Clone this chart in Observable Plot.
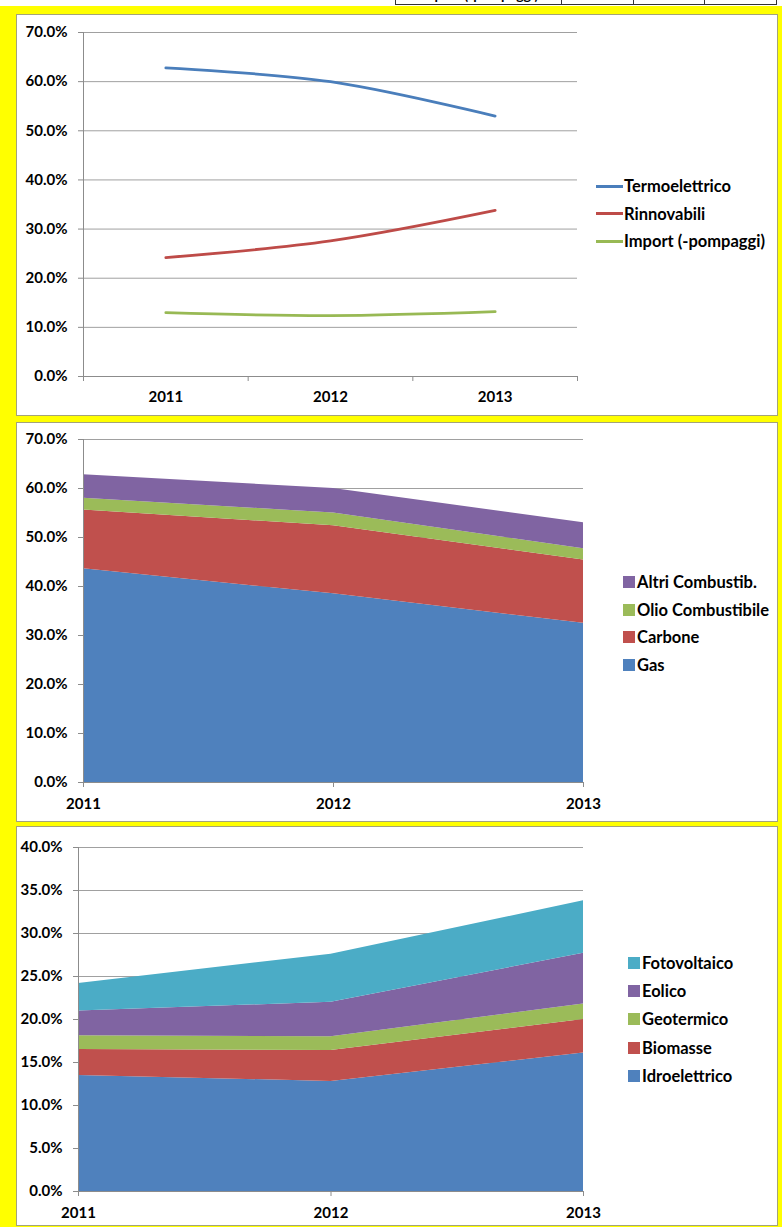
<!DOCTYPE html>
<html><head><meta charset="utf-8">
<script src="https://cdn.jsdelivr.net/npm/d3@7"></script>
<script src="https://cdn.jsdelivr.net/npm/@observablehq/plot@0.6"></script>
<style>
body{margin:0;background:#fff;}
#page{position:relative;width:782px;height:1227px;background:#ffff00;overflow:hidden;font-family:Lato,sans-serif;}
#topstrip{position:absolute;left:0;top:0;width:782px;height:6px;background:#fff;overflow:hidden;}
#topstrip table{position:absolute;left:395px;top:-16px;border-collapse:collapse;font:bold 14px Lato,sans-serif;}
#topstrip td{border:1px solid #333;height:19px;padding:0 4px;text-align:center;}
.panel{position:absolute;left:16px;width:760px;background:#fff;border:1px solid #a3a37a;}
.chart{position:absolute;left:0;}
.legend{position:absolute;font-weight:bold;color:#000;}
.item{position:absolute;left:0;height:20px;white-space:nowrap;display:flex;align-items:center;}
</style></head>
<body>
<div id="page">
  <div id="topstrip"></div>
  <div class="panel" style="top:14px;height:400px;"></div>
  <div class="panel" style="top:422px;height:398px;"></div>
  <div class="panel" style="top:826px;height:398px;"></div>
</div>
<script>
// ---------- DATA ----------
const years = [2011, 2012, 2013];

const lineSeries = ["Termoelettrico", "Rinnovabili", "Import (-pompaggi)"];
const termoelettrico = [0.628, 0.600, 0.530];
const rinnovabili = [0.242, 0.276, 0.338];
const importPompaggi = [0.130, 0.124, 0.132];
const lineColors = ["#4a7ebb", "#be4b48", "#98b954"];
const y1Ticks = [0, 0.1, 0.2, 0.3, 0.4, 0.5, 0.6, 0.7];

const fossilSeries = ["Gas", "Carbone", "Olio Combustibile", "Altri Combustib."];
const gas = [0.436, 0.385, 0.325];
const carbone = [0.120, 0.139, 0.129];
const olio = [0.024, 0.026, 0.023];
const altri = [0.048, 0.050, 0.053];
const fossilColors = ["#4f81bd", "#c0504d", "#9bbb59", "#8064a2"];
const y2Ticks = [0, 0.1, 0.2, 0.3, 0.4, 0.5, 0.6, 0.7];

const renewSeries = ["Idroelettrico", "Biomasse", "Geotermico", "Eolico", "Fotovoltaico"];
const idro = [0.135, 0.128, 0.161];
const biomasse = [0.030, 0.036, 0.039];
const geotermico = [0.016, 0.016, 0.018];
const eolico = [0.029, 0.040, 0.059];
const fotovoltaico = [0.032, 0.056, 0.061];
const renewColors = ["#4f81bd", "#c0504d", "#9bbb59", "#8064a2", "#4bacc6"];
const y3Ticks = [0, 0.05, 0.10, 0.15, 0.20, 0.25, 0.30, 0.35, 0.40];

// ---------- HELPERS ----------
const page = document.getElementById("page");
const pct = d3.format(".1%");
function tidy(series, arrays) {
  const out = [];
  series.forEach((s, i) => years.forEach((yr, j) => out.push({series: s, year: yr, value: arrays[i][j]})));
  return out;
}
const baseStyle = {background: "transparent", fontFamily: "Lato, sans-serif", fontSize: "15px", fontWeight: "bold", color: "#000", overflow: "visible"};
const gridColor = "#a0a0a0";
const axisColor = "#8c8c8c";

function place(svg, top) {
  svg.classList.add("chart");
  svg.style.top = top + "px";
  svg.style.position = "absolute";
  svg.style.left = "0px";
  page.appendChild(svg);
}
function legend(names, colors, left, top, gap, kind, fontSize) {
  const div = document.createElement("div");
  div.className = "legend";
  div.style.left = left + "px";
  div.style.top = top + "px";
  div.style.fontSize = fontSize + "px";
  names.forEach((n, i) => {
    const it = document.createElement("div");
    it.className = "item";
    it.style.top = (i * gap) + "px";
    const sw = document.createElement("span");
    if (kind === "line") {
      sw.style.cssText = `display:inline-block;width:27px;height:3px;background:${colors[i]};margin-right:1px;`;
    } else {
      sw.style.cssText = `display:inline-block;width:12px;height:12px;background:${colors[i]};margin-right:2px;`;
    }
    it.appendChild(sw);
    const t = document.createElement("span");
    t.textContent = n;
    it.appendChild(t);
    div.appendChild(it);
  });
  page.appendChild(div);
}

// ---------- TOP TABLE FRAGMENT ----------
{
  const tbl = document.createElement("table");
  const tr = document.createElement("tr");
  const widths = [157, 63, 62, 63];
  const cells = ["Import (-pompaggi)", ...importPompaggi.map(pct)];
  cells.forEach((c, i) => {
    const td = document.createElement("td");
    td.style.width = widths[i] + "px";
    td.textContent = c;
    tr.appendChild(td);
  });
  tbl.appendChild(tr);
  document.getElementById("topstrip").appendChild(tbl);
}

// ---------- PANEL 1: lines ----------
{
  const data = tidy(lineSeries, [termoelettrico, rinnovabili, importPompaggi]);
  const bounds = [years[0] - 0.5, ...years.map(y => y + 0.5)];
  const svg = Plot.plot({
    width: 782, height: 402,
    marginLeft: 83, marginRight: 205, marginTop: 18, marginBottom: 40,
    x: {type: "linear", domain: [bounds[0], bounds[bounds.length - 1]]},
    y: {domain: [0, 0.7]},
    color: {domain: lineSeries, range: lineColors},
    style: baseStyle,
    marks: [
      Plot.gridY(y1Ticks, {stroke: gridColor, strokeOpacity: 1}),
      Plot.ruleX([bounds[0]], {stroke: axisColor}),
      Plot.ruleY([0], {stroke: axisColor}),
      Plot.axisY(y1Ticks, {tickFormat: pct, tickSize: 5, tickPadding: 11, stroke: axisColor, label: null}),
      Plot.axisX(bounds, {tickFormat: () => "", tickSize: 5, stroke: axisColor, label: null}),
      Plot.axisX(years, {tickFormat: d => String(d), tickSize: 0, tickPadding: 15, label: null}),
      Plot.line(data, {x: "year", y: "value", z: "series", stroke: "series", strokeWidth: 2.75, curve: "catmull-rom"})
    ]
  });
  place(svg, 14);
  legend(lineSeries, lineColors, 596, 176, 27.5, "line", 16.5);
}

// ---------- PANEL 2: fossil stacked area ----------
{
  const data = tidy(fossilSeries, [gas, carbone, olio, altri]);
  const svg = Plot.plot({
    width: 782, height: 400,
    marginLeft: 83, marginRight: 199, marginTop: 17, marginBottom: 40,
    x: {type: "linear", domain: [years[0], years[years.length - 1]]},
    y: {domain: [0, 0.7]},
    color: {domain: fossilSeries, range: fossilColors},
    style: baseStyle,
    marks: [
      Plot.gridY(y2Ticks, {stroke: gridColor, strokeOpacity: 1}),
      Plot.areaY(data, {x: "year", y: "value", z: "series", fill: "series", fillOpacity: 1}),
      Plot.ruleX([years[0]], {stroke: axisColor}),
      Plot.ruleY([0], {stroke: axisColor}),
      Plot.axisY(y2Ticks, {tickFormat: pct, tickSize: 5, tickPadding: 11, stroke: axisColor, label: null}),
      Plot.axisX(years, {tickFormat: d => String(d), tickSize: 5, tickPadding: 11, stroke: axisColor, label: null})
    ]
  });
  place(svg, 422);
  legend(fossilSeries.slice().reverse(), fossilColors.slice().reverse(), 623, 572, 27.5, "square", 16.5);
}

// ---------- PANEL 3: renewables stacked area ----------
{
  const data = tidy(renewSeries, [idro, biomasse, geotermico, eolico, fotovoltaico]);
  const svg = Plot.plot({
    width: 782, height: 400,
    marginLeft: 78, marginRight: 199, marginTop: 21, marginBottom: 35,
    x: {type: "linear", domain: [years[0], years[years.length - 1]]},
    y: {domain: [0, 0.4]},
    color: {domain: renewSeries, range: renewColors},
    style: baseStyle,
    marks: [
      Plot.gridY(y3Ticks, {stroke: gridColor, strokeOpacity: 1}),
      Plot.areaY(data, {x: "year", y: "value", z: "series", fill: "series", fillOpacity: 1}),
      Plot.ruleX([years[0]], {stroke: axisColor}),
      Plot.ruleY([0], {stroke: axisColor}),
      Plot.axisY(y3Ticks, {tickFormat: pct, tickSize: 5, tickPadding: 11, stroke: axisColor, label: null}),
      Plot.axisX(years, {tickFormat: d => String(d), tickSize: 5, tickPadding: 11, stroke: axisColor, label: null})
    ]
  });
  place(svg, 826);
  legend(renewSeries.slice().reverse(), renewColors.slice().reverse(), 628, 953, 28.2, "square", 16.5);
}
</script>
</body></html>
